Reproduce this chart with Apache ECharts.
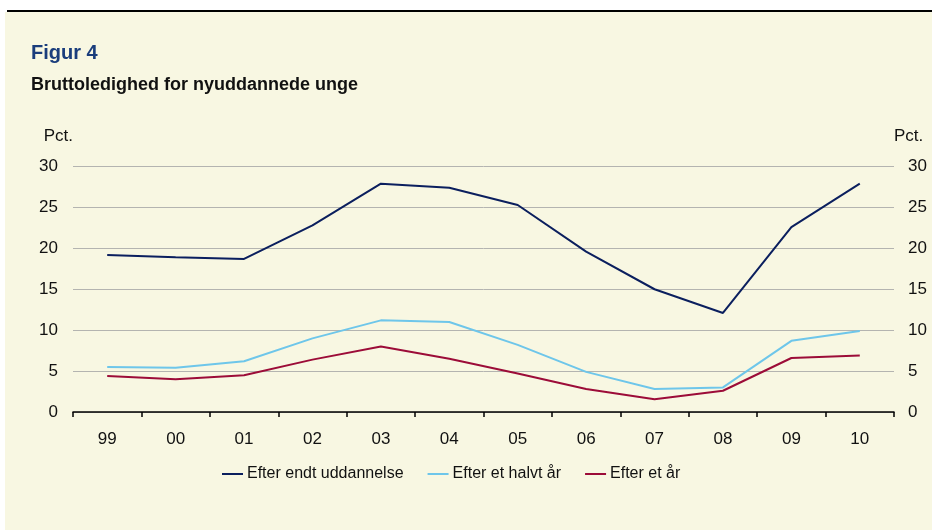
<!DOCTYPE html>
<html>
<head>
<meta charset="utf-8">
<script src="https://cdn.jsdelivr.net/npm/echarts@6/dist/echarts.min.js"></script>
<style>
html,body{margin:0;padding:0;background:#ffffff;}
#chart{width:932px;height:530px;}
</style>
</head>
<body>
<div id="chart"></div>
<script>
const categories = ['99','00','01','02','03','04','05','06','07','08','09','10'];
const seriesNames = ['Efter endt uddannelse','Efter et halvt år','Efter et år'];
const efterEndt = [19.2, 18.9, 18.7, 22.8, 27.9, 27.4, 25.3, 19.6, 15.0, 12.1, 22.6, 27.9];
const efterHalvt = [5.5, 5.4, 6.2, 9.0, 11.2, 11.0, 8.2, 4.9, 2.8, 3.0, 8.7, 9.9];
const efterAar = [4.4, 4.0, 4.5, 6.4, 8.0, 6.5, 4.7, 2.8, 1.55, 2.6, 6.6, 6.9];
const yTicks = [0, 5, 10, 15, 20, 25, 30];

const colors = ['#0B1F5E', '#6EC6EA', '#9C0C38'];
const font = 'Liberation Sans, Arial, sans-serif';

const chart = echarts.init(document.getElementById('chart'), null, {renderer: 'canvas'});
const yAxisBase = {
  type: 'value', min: yTicks[0], max: yTicks[yTicks.length - 1], interval: 5,
  axisLine: {show: false}, axisTick: {show: false},
  splitLine: {show: true, lineStyle: {color: '#B4B4B0', width: 1}},
  axisLabel: {color: '#111', fontSize: 17, fontFamily: font},
  name: 'Pct.', nameGap: 22,
  nameTextStyle: {color: '#111', fontSize: 17, fontFamily: font}
};
chart.setOption({
  animation: false,
  backgroundColor: 'transparent',
  color: colors,
  graphic: [
    {type: 'rect', z: -10, shape: {x: 5, y: 12, width: 927, height: 518}, style: {fill: '#F8F7E2'}},
    {type: 'line', z: -5, shape: {x1: 7, y1: 11, x2: 932, y2: 11}, style: {stroke: '#000', lineWidth: 2}},
    {type: 'text', left: 31, top: 43, style: {text: 'Figur 4', fill: '#1A3D7C', font: 'bold 20px ' + font}},
    {type: 'text', left: 31, top: 76, style: {text: 'Bruttoledighed for nyuddannede unge', fill: '#111', font: 'bold 18px ' + font}}
  ],
  grid: {left: 73, right: 38, top: 166.5, bottom: 118, containLabel: false},
  legend: {
    top: 466, left: 222, padding: 0, itemWidth: 21, itemHeight: 2, itemGap: 24,
    icon: 'rect',
    textStyle: {color: '#111', fontSize: 16, fontFamily: font, padding: [0, 0, 0, -1]},
    data: seriesNames
  },
  xAxis: {
    type: 'category', data: categories, boundaryGap: true,
    axisLine: {show: true, onZero: false, lineStyle: {color: '#000', width: 1.5}},
    axisTick: {show: true, length: 5, inside: false, lineStyle: {color: '#000', width: 1.5}},
    axisLabel: {color: '#111', fontSize: 17, fontFamily: font, margin: 19}
  },
  yAxis: [
    Object.assign({}, yAxisBase, {position: 'left', nameLocation: 'end',
      axisLabel: Object.assign({}, yAxisBase.axisLabel, {margin: 15}),
      nameTextStyle: Object.assign({}, yAxisBase.nameTextStyle, {align: 'right', padding: [0, 0, 0, 0]})}),
    Object.assign({}, yAxisBase, {position: 'right', splitLine: {show: false},
      axisLabel: Object.assign({}, yAxisBase.axisLabel, {margin: 14}),
      nameTextStyle: Object.assign({}, yAxisBase.nameTextStyle, {align: 'left', padding: [0, 0, 0, 0]})})
  ],
  series: [
    {name: seriesNames[0], type: 'line', data: efterEndt, symbol: 'none', lineStyle: {width: 2, color: colors[0]}, itemStyle: {color: colors[0]}},
    {name: seriesNames[1], type: 'line', data: efterHalvt, symbol: 'none', lineStyle: {width: 2, color: colors[1]}, itemStyle: {color: colors[1]}},
    {name: seriesNames[2], type: 'line', data: efterAar, symbol: 'none', lineStyle: {width: 2, color: colors[2]}, itemStyle: {color: colors[2]}}
  ]
});
</script>
</body>
</html>
